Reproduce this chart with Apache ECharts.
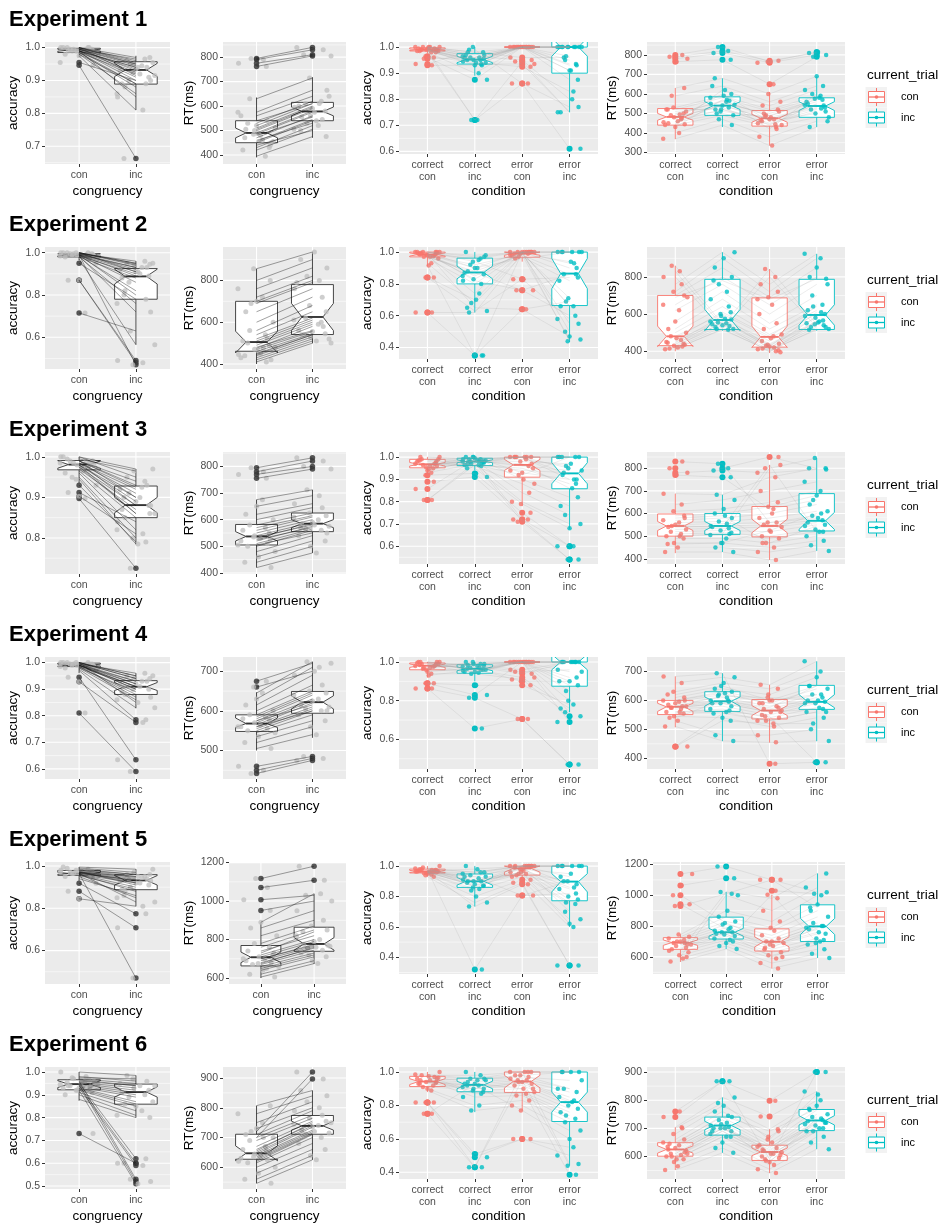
<!DOCTYPE html>
<html>
<head>
<meta charset="utf-8">
<script src="https://cdn.jsdelivr.net/npm/echarts@6/dist/echarts.min.js"></script>
<style>
html, body { margin: 0; padding: 0; background: #ffffff; }
#main { width: 943px; height: 1224px; }
</style>
</head>
<body>
<div id="main"></div>
<script>
// ---------- category labels and titles ----------
const CONGRUENCY = ['con', 'inc'];
const CONDITIONS = ['correct\ncon', 'correct\ninc', 'error\ncon', 'error\ninc'];
const TITLES = ['Experiment 1', 'Experiment 2', 'Experiment 3', 'Experiment 4', 'Experiment 5', 'Experiment 6'];
const LEGEND_TITLE = 'current_trial';
const LEGEND_LABELS = ['con', 'inc'];

// Box statistics per group: [lower whisker, Q1, median, Q3, upper whisker, notch low, notch high]
// Participant values are listed in the same participant order within each experiment.

// ---------- Experiment 1 ----------
const e1AccCon = [1.0,0.99,0.995,0.985,1.0,0.99,0.98,0.995,0.99,1.0,0.985,0.99,0.995,0.98,1.0,0.99,0.985,0.99,0.975,0.995,0.955,0.946,0.99,1.0];
const e1AccInc = [0.96,0.94,0.93,0.92,0.95,0.91,0.89,0.965,0.9,0.955,0.88,0.935,0.945,0.86,0.97,0.925,0.89,0.85,0.81,0.95,0.9,0.663,0.94,0.915];
const e1AccBox = [[0.972,0.985,0.992,0.998,1.0,0.989,0.995],[0.81,0.889,0.932,0.957,0.975,0.912,0.952]];
const e1RtCon = [450,470,490,510,530,540,560,480,500,430,420,395,630,455,505,520,460,575,440,485,762,775,790,795];
const e1RtInc = [540,560,580,600,620,610,640,555,590,520,505,475,715,545,595,610,530,665,500,575,805,810,830,840];
const e1RtBox = [[390,450,490,540,635,470,510],[470,540,578,615,718,560,596]];
const e1Acc4 = [
  [1.0,0.99,0.995,0.985,1.0,0.99,0.98,0.995,0.99,1.0,0.985,0.99,0.995,0.98,1.0,0.99,0.965,0.96,0.935,0.93,0.955,0.99,0.985,1.0],
  [0.97,0.95,0.96,0.94,0.98,0.93,0.9,0.965,0.955,1.0,0.935,0.945,0.96,0.72,0.97,0.95,0.94,0.875,0.99,0.93,0.96,0.72,0.95,0.98],
  [1.0,1.0,1.0,1.0,0.96,1.0,1.0,0.95,1.0,1.0,0.935,1.0,1.0,0.86,1.0,1.0,0.925,1.0,0.86,1.0,1.0,0.945,1.0,1.0],
  [1.0,1.0,0.91,1.0,0.96,0.93,1.0,0.8,1.0,0.875,0.75,1.0,0.95,0.61,1.0,0.91,0.83,1.0,0.77,1.0,0.935,0.75,1.0,0.965]];
const e1Acc4Box = [[0.975,0.985,0.99,0.997,1.0,0.987,0.993],[0.89,0.935,0.952,0.975,1.0,0.94,0.965],[1,1,1,1,1,1,1],[0.75,0.9,1.0,1.0,1.0,0.965,1.035]];
const e1Rt4 = [
  [440,460,480,500,520,470,490,510,450,430,400,370,630,530,475,455,495,590,445,520,765,780,790,800],
  [490,520,540,560,580,600,510,530,550,570,470,440,680,590,545,500,565,640,620,520,775,810,820,840],
  [430,450,470,490,510,460,480,440,500,420,380,335,600,520,465,445,485,560,540,470,650,760,770,765],
  [480,520,540,560,580,500,530,550,570,600,460,430,690,590,545,510,575,640,620,525,790,800,810,815]];
const e1Rt4Box = [[368,440,482,525,630,465,500],[430,490,540,585,680,520,560],[335,435,475,515,610,455,495],[430,480,538,580,690,515,560]];
const e1Lim = [[0.646,1.017],[363,862],[0.59,1.0195],[292,866]];
const e1Breaks = [[0.7,0.8,0.9,1.0],[400,500,600,700,800],[0.6,0.7,0.8,0.9,1.0],[300,400,500,600,700,800]];

// ---------- Experiment 2 ----------
const e2AccCon = [1.0,0.99,0.995,0.985,1.0,0.99,0.98,0.995,0.99,1.0,0.985,0.99,0.995,0.98,1.0,0.99,0.95,0.87,0.87,0.715,0.985,0.99,1.0,0.97];
const e2AccInc = [0.95,0.93,0.92,0.9,0.94,0.89,0.88,0.96,0.86,0.95,0.82,0.91,0.93,0.76,0.945,0.47,0.78,0.49,0.48,0.63,0.72,0.8,0.91,0.565];
const e2AccBox = [[0.965,0.98,0.99,0.995,1.0,0.985,0.995],[0.565,0.78,0.888,0.925,0.96,0.852,0.922]];
const e2RtCon = [420,440,460,480,500,520,430,450,470,490,510,540,560,600,650,700,720,760,800,856,410,445,475,690];
const e2RtInc = [510,530,545,560,600,620,520,540,555,590,610,650,680,720,760,800,820,860,900,936,500,540,580,790];
const e2RtBox = [[400,461,505,700,856,453,557],[499,541,625,780,936,560,690]];
const e2Acc4 = [
  [1.0,0.99,0.98,1.0,0.97,0.985,1.0,0.99,0.975,1.0,0.96,0.995,0.98,0.93,1.0,0.99,0.84,0.84,0.62,0.62,0.97,1.0,0.985,0.915],
  [1.0,0.96,0.92,0.98,0.88,0.9,0.95,0.85,0.86,0.94,0.8,0.82,0.74,0.68,0.97,0.65,0.7,0.63,0.62,0.35,0.87,0.9,0.83,0.35],
  [1.0,1.0,0.99,1.0,0.98,1.0,0.97,1.0,0.99,0.83,1.0,0.76,1.0,0.98,1.0,0.64,1.0,0.83,0.99,1.0,0.76,0.96,1.0,0.64],
  [1.0,1.0,0.94,1.0,0.86,0.9,0.82,1.0,0.71,0.84,0.66,0.6,0.5,0.45,1.0,0.47,0.66,0.58,0.55,0.44,0.86,1.0,0.93,0.69]];
const e2Acc4Box = [[0.91,0.97,0.985,1.0,1.0,0.975,0.995],[0.62,0.8,0.872,0.962,1.0,0.832,0.912],[0.94,0.968,0.99,1.0,1.0,0.98,1.0],[0.435,0.664,0.865,1.0,1.0,0.77,0.96]];
const e2Rt4 = [
  [410,420,430,440,450,460,480,500,520,560,620,650,700,720,760,800,830,860,435,445,470,690,415,425],
  [520,530,540,550,560,570,600,640,680,720,760,800,850,900,933,520,535,545,575,590,610,780,515,555],
  [400,410,420,430,440,455,470,490,520,550,600,650,690,720,760,800,842,395,415,425,480,680,405,435],
  [520,530,540,550,560,580,600,620,650,700,760,800,850,900,924,530,545,565,590,610,640,790,515,555]];
const e2Rt4Box = [[400,430,480,700,860,425,535],[510,517,568,787,933,510,625],[390,422,477,687,842,420,535],[510,517,595,787,924,540,650]];
const e2Lim = [[0.45,1.027],[376,960],[0.328,1.032],[358,961]];
const e2Breaks = [[0.6,0.8,1.0],[400,600,800],[0.4,0.6,0.8,1.0],[400,600,800]];

// ---------- Experiment 3 ----------
const e3AccCon = [1.0,0.99,0.985,0.98,0.995,0.975,0.97,0.99,0.985,1.0,0.965,0.98,0.99,0.96,0.975,0.95,0.93,0.912,0.903,0.897,0.985,0.99,0.945,0.98];
const e3AccInc = [0.95,0.93,0.92,0.9,0.965,0.88,0.87,0.94,0.91,0.97,0.85,0.89,0.925,0.82,0.86,0.8,0.79,0.84,0.81,0.725,0.88,0.9,0.785,0.86];
const e3AccBox = [[0.935,0.968,0.981,0.991,1.0,0.972,0.99],[0.784,0.85,0.881,0.928,0.97,0.862,0.9]];
const e3RtCon = [420,440,460,480,500,510,520,530,540,550,560,570,580,600,620,650,675,505,525,535,755,770,780,795];
const e3RtInc = [475,500,520,540,560,565,575,585,590,600,610,615,625,645,660,690,712,550,570,580,790,800,820,832];
const e3RtBox = [[420,505,537,582,675,520,555],[475,555,585,625,712,570,600]];
const e3Acc4 = [
  [1.0,0.99,0.97,0.98,0.96,0.955,0.975,0.985,0.95,0.965,0.99,1.0,0.94,0.93,0.97,0.98,0.919,0.889,0.857,0.807,0.807,0.96,0.985,0.945],
  [1.0,0.99,0.98,0.985,0.97,0.995,0.965,0.98,0.975,1.0,0.96,0.99,0.985,0.97,0.98,0.95,0.927,0.911,0.99,0.975,0.965,0.985,1.0,0.98],
  [1.0,1.0,0.98,0.96,0.94,1.0,0.92,0.97,1.0,0.9,0.88,1.0,0.84,0.8,1.0,0.79,0.75,0.72,0.72,0.71,0.95,1.0,0.93,0.99],
  [1.0,1.0,0.97,0.94,0.93,0.9,1.0,0.86,0.95,0.82,0.78,1.0,0.74,0.7,0.92,0.68,0.6,0.6,0.54,0.54,0.88,1.0,0.9,0.96]];
const e3Acc4Box = [[0.925,0.952,0.968,0.99,1.0,0.96,0.976],[0.94,0.962,0.98,0.995,1.0,0.975,0.988],[0.78,0.91,0.965,1.0,1.0,0.94,0.99],[0.675,0.858,0.927,1.0,1.0,0.88,0.975]];
const e3Rt4 = [
  [430,450,470,490,500,510,520,530,540,550,560,570,590,610,640,688,500,545,580,465,770,780,800,830],
  [430,450,470,490,505,515,525,535,545,555,565,580,600,620,660,683,510,540,590,470,760,790,800,820],
  [395,430,450,470,490,500,520,540,550,560,580,600,630,650,700,760,800,815,470,525,620,780,850,560],
  [435,460,480,500,520,530,550,560,570,590,610,640,680,700,740,800,845,520,545,600,660,795,800,580]];
const e3Rt4Box = [[425,500,545,598,688,525,565],[430,508,545,600,683,525,565],[395,497,545,631,815,515,575],[435,523,568,688,845,530,605]];
const e3Lim = [[0.711,1.012],[396,854],[0.52,1.023],[377,872]];
const e3Breaks = [[0.8,0.9,1.0],[400,500,600,700,800],[0.6,0.7,0.8,0.9,1.0],[400,500,600,700,800]];

// ---------- Experiment 4 ----------
const e4AccCon = [1.0,0.99,0.995,0.985,1.0,0.99,0.98,0.995,0.99,1.0,0.985,0.99,0.995,0.98,1.0,0.99,0.97,0.945,0.928,0.81,0.985,0.99,1.0,0.975];
const e4AccInc = [0.95,0.93,0.92,0.91,0.94,0.9,0.89,0.96,0.91,0.95,0.88,0.92,0.93,0.86,0.94,0.9,0.785,0.634,0.775,0.59,0.87,0.91,0.85,0.83];
const e4AccBox = [[0.96,0.985,0.99,0.998,1.0,0.987,0.994],[0.828,0.88,0.909,0.932,0.96,0.895,0.925]];
const e4RtCon = [505,520,535,545,550,555,560,565,570,575,580,585,590,600,615,630,645,560,575,660,675,460,450,442];
const e4RtInc = [540,560,575,590,600,605,610,620,625,630,640,645,650,665,690,710,724,600,615,700,720,485,480,475];
const e4RtBox = [[500,548,568,590,647,558,582],[532,594,622,649,724,605,638]];
const e4Acc4 = [
  [1.0,0.99,0.98,0.995,0.97,0.96,0.985,1.0,0.975,0.965,0.99,1.0,0.95,0.94,0.98,0.99,0.89,0.89,0.863,0.863,0.97,1.0,0.985,0.93],
  [1.0,0.99,0.97,0.96,0.985,0.95,0.945,0.975,0.98,1.0,0.96,0.955,0.97,0.94,0.99,0.965,0.88,0.83,0.815,0.656,0.95,0.98,0.99,0.96],
  [1.0,1.0,1.0,1.0,0.96,1.0,1.0,0.94,1.0,1.0,0.92,1.0,1.0,0.91,1.0,0.9,0.88,1.0,0.705,0.705,1.0,0.95,1.0,1.0],
  [1.0,1.0,1.0,0.95,1.0,0.92,0.9,1.0,0.8,0.88,0.76,1.0,0.74,0.72,1.0,0.9,0.78,0.69,0.47,0.47,1.0,0.96,1.0,0.85]];
const e4Acc4Box = [[0.92,0.96,0.981,0.995,1.0,0.972,0.99],[0.9,0.942,0.965,0.986,1.0,0.955,0.975],[1,1,1,1,1,1,1],[0.74,0.875,1.0,1.0,1.0,0.96,1.04]];
const e4Rt4 = [
  [510,530,545,555,560,570,575,580,585,590,595,600,610,630,660,683,560,575,600,620,440,441,540,580],
  [460,480,540,560,570,580,590,595,600,610,620,630,640,660,680,694,565,590,625,650,530,555,600,615],
  [455,480,510,530,540,550,560,565,570,580,590,600,620,640,654,381,545,560,590,600,520,530,575,610],
  [460,500,540,560,575,590,595,600,610,620,640,650,680,700,735,386,386,570,590,620,520,560,650,600]];
const e4Rt4Box = [[507,551,578,600,683,562,590],[459,562,597,630,694,580,612],[454,536,565,603,654,548,582],[459,569,595,652,735,575,620]];
const e4Lim = [[0.562,1.021],[428,736],[0.447,1.026],[363,750]];
const e4Breaks = [[0.6,0.7,0.8,0.9,1.0],[500,600,700],[0.6,0.8,1.0],[400,500,600,700]];

// ---------- Experiment 5 ----------
const e5AccCon = [0.98,0.97,0.965,0.96,0.99,0.975,0.955,0.97,0.965,0.995,0.96,0.97,0.975,0.95,0.985,0.965,0.919,0.881,0.845,0.96,0.97,0.94,0.98,0.965];
const e5AccInc = [0.96,0.94,0.93,0.92,0.97,0.91,0.89,0.95,0.935,0.985,0.88,0.92,0.945,0.85,0.96,0.47,0.774,0.708,0.81,0.9,0.93,0.86,0.95,0.83];
const e5AccBox = [[0.93,0.956,0.965,0.979,0.995,0.96,0.97],[0.809,0.888,0.932,0.959,0.985,0.91,0.955]];
const e5RtCon = [605,620,640,660,670,680,690,700,710,720,740,760,780,820,860,890,650,700,730,675,951,1007,1070,1117];
const e5RtInc = [675,690,710,730,745,755,765,775,790,800,820,850,870,900,950,1038,720,770,840,760,1000,1030,1108,1181];
const e5RtBox = [[600,663,708,769,890,680,735],[673,739,777,864,1038,745,810]];
const e5Acc4 = [
  [1.0,0.98,0.97,0.965,0.96,0.955,0.975,0.97,0.96,0.99,0.965,0.97,0.95,0.945,0.985,0.96,0.94,0.93,0.965,0.975,0.955,0.97,0.98,0.96],
  [1.0,0.96,0.94,0.93,0.9,0.88,0.92,0.95,0.87,0.86,0.9,0.91,0.85,0.84,0.96,0.89,0.8,0.76,0.734,0.32,0.93,0.98,0.9,0.87],
  [1.0,1.0,0.98,1.0,0.96,1.0,0.95,1.0,0.99,0.97,1.0,0.94,1.0,0.93,1.0,0.96,0.91,0.89,0.88,0.806,0.806,1.0,0.98,0.95],
  [1.0,1.0,0.95,1.0,0.9,0.88,0.85,1.0,0.8,0.78,0.93,0.75,0.7,0.65,1.0,0.62,0.6,0.346,0.346,0.9,0.82,1.0,0.86,0.76]];
const e5Acc4Box = [[0.93,0.955,0.965,0.98,1.0,0.958,0.972],[0.734,0.86,0.9,0.948,1.0,0.875,0.925],[0.92,0.941,0.985,1.0,1.0,0.96,1.0],[0.6,0.772,0.898,1.0,1.0,0.83,0.95]];
const e5Rt4 = [
  [570,590,610,630,650,660,670,680,690,700,710,720,730,745,600,640,690,700,942,1000,1064,1138,930,680],
  [651,670,690,710,720,735,745,760,770,790,810,830,860,900,1000,1022,700,750,780,820,1111,1187,1010,760],
  [525,560,590,610,630,650,670,690,700,720,740,770,790,830,900,980,1004,600,660,700,1030,1100,1100,680],
  [593,620,650,680,700,720,750,780,800,820,860,900,940,1000,1050,1142,690,710,790,800,1010,1020,920,760]];
const e5Rt4Box = [[567,649,693,725,745,675,710],[651,716,760,858,1022,735,785],[525,638,698,782,1004,665,730],[593,700,798,938,1142,745,850]];
const e5Lim = [[0.442,1.019],[569,1203],[0.29,1.027],[489,1216]];
const e5Breaks = [[0.6,0.8,1.0],[600,800,1000,1200],[0.4,0.6,0.8,1.0],[600,800,1000,1200]];

// ---------- Experiment 6 ----------
const e6AccCon = [1.0,0.98,0.97,0.96,0.955,0.95,0.945,0.94,0.935,0.93,0.925,0.92,0.91,0.9,0.88,0.975,0.95,0.94,0.93,0.96,0.945,0.73,0.92,0.965];
const e6AccInc = [0.985,0.96,0.95,0.94,0.93,0.92,0.91,0.9,0.89,0.87,0.86,0.85,0.83,0.81,0.8,0.97,0.62,0.6,0.59,0.53,0.52,0.6,0.51,0.94];
const e6AccBox = [[0.874,0.922,0.947,0.966,1.0,0.932,0.962],[0.8,0.859,0.912,0.947,0.985,0.89,0.935]];
const e6RtCon = [546,560,580,600,615,625,630,640,645,650,660,670,690,700,710,730,750,780,807,635,655,620,700,720];
const e6RtInc = [625,640,660,680,700,712,715,725,735,740,745,755,765,775,790,800,820,840,858,720,750,710,897,920];
const e6RtBox = [[546,627,647,711,807,622,672],[625,711,739,774,858,725,755]];
const e6Acc4 = [
  [1.0,0.98,0.97,0.96,0.95,0.94,0.935,0.93,0.92,0.91,0.965,0.95,0.9,0.89,0.985,0.94,0.817,0.817,0.817,0.75,0.75,0.96,0.93,0.975],
  [1.0,0.98,0.96,0.95,0.94,0.93,0.92,0.91,0.9,0.89,0.87,0.85,0.8,0.77,0.96,0.92,0.51,0.49,0.43,0.43,0.93,0.95,0.9,0.88],
  [1.0,1.0,0.98,0.97,0.96,0.95,0.94,0.93,0.92,0.9,0.88,0.86,0.83,0.8,1.0,0.77,0.6,0.6,1.0,0.95,0.9,0.98,0.94,0.87],
  [1.0,1.0,1.0,0.95,0.9,0.88,0.85,0.82,0.8,0.78,0.76,0.72,0.7,0.65,1.0,0.6,0.55,0.5,0.45,0.44,0.385,0.9,0.83,0.74]];
const e6Acc4Box = [[0.88,0.913,0.943,0.974,1.0,0.925,0.96],[0.76,0.882,0.923,0.963,1.0,0.9,0.945],[0.77,0.878,0.943,1.0,1.0,0.905,0.98],[0.44,0.704,0.82,1.0,1.0,0.76,0.88]];
const e6Rt4 = [
  [552,565,580,590,600,605,610,620,625,630,640,650,660,680,704,740,760,600,615,635,590,610,645,700],
  [613,630,650,670,680,690,700,705,710,720,730,740,760,780,810,867,867,690,700,715,670,700,745,790],
  [541,555,570,585,595,600,610,615,620,630,640,650,670,697,742,798,590,605,625,580,610,635,690,660],
  [626,650,670,690,700,710,720,725,730,740,750,765,780,800,831,900,900,700,715,735,690,720,770,820]];
const e6Rt4Box = [[552,601,625,649,704,612,638],[613,676,710,740,810,695,725],[541,586,616,640,697,603,630],[626,692,728,767,831,712,745]];
const e6Lim = [[0.487,1.022],[527,937],[0.36,1.03],[520,918]];
const e6Breaks = [[0.5,0.6,0.7,0.8,0.9,1.0],[600,700,800,900],[0.4,0.6,0.8,1.0],[600,700,800,900]];

// Horizontal spread of the jittered points (fraction of the maximal jitter width)
const JITTER = [-0.92,0.35,-0.28,0.74,-0.6,0.1,0.95,-0.45,0.55,-0.8,0.2,-0.1,0.65,-0.7,0.45,-0.35,0.85,-0.55,0.0,0.3,-0.95,0.7,-0.15,0.5];

// ---------- drawing ----------
const FONT = '"Liberation Sans", Arial, Helvetica, sans-serif';
const RED = '#F8766D';
const TEAL = '#00BFC4';
const ROW_STEP = 205;
const PANEL_LEFT = [45, 223, 399, 647];
const PANEL_RIGHT = [170, 346, 598, 845];
const NAME_X = [13, 190, 367, 612];

const experiments = [
  [[e1AccCon, e1AccInc], e1AccBox, [e1RtCon, e1RtInc], e1RtBox, e1Acc4, e1Acc4Box, e1Rt4, e1Rt4Box, e1Lim, e1Breaks],
  [[e2AccCon, e2AccInc], e2AccBox, [e2RtCon, e2RtInc], e2RtBox, e2Acc4, e2Acc4Box, e2Rt4, e2Rt4Box, e2Lim, e2Breaks],
  [[e3AccCon, e3AccInc], e3AccBox, [e3RtCon, e3RtInc], e3RtBox, e3Acc4, e3Acc4Box, e3Rt4, e3Rt4Box, e3Lim, e3Breaks],
  [[e4AccCon, e4AccInc], e4AccBox, [e4RtCon, e4RtInc], e4RtBox, e4Acc4, e4Acc4Box, e4Rt4, e4Rt4Box, e4Lim, e4Breaks],
  [[e5AccCon, e5AccInc], e5AccBox, [e5RtCon, e5RtInc], e5RtBox, e5Acc4, e5Acc4Box, e5Rt4, e5Rt4Box, e5Lim, e5Breaks],
  [[e6AccCon, e6AccInc], e6AccBox, [e6RtCon, e6RtInc], e6RtBox, e6Acc4, e6Acc4Box, e6Rt4, e6Rt4Box, e6Lim, e6Breaks]
];

const grids = [], xAxes = [], yAxes = [], series = [], graphics = [];

function minorBreaks(breaks, lim) {
  const step = breaks[1] - breaks[0];
  const out = [];
  for (let i = -1; i < breaks.length; i++) {
    const v = +(breaks[0] + step * (i + 0.5)).toFixed(6);
    if (v > lim[0] && v < lim[1]) out.push(v);
  }
  return out;
}

function addPanel(row, col, groups, boxes, lim, breaks) {
  const gi = grids.length;
  const nCat = groups.length;
  const colored = col >= 2;
  const isAcc = col % 2 === 0;
  const fmt = v => isAcc ? v.toFixed(1) : String(Math.round(v));
  const wide = breaks.some(b => fmt(b).length > 3);
  const left = PANEL_LEFT[col] + (wide ? 6 : 0);
  const top = row * ROW_STEP + 42;
  const height = colored ? 112 : 122;
  const cats = groups.map((g, k) => k + 1);
  const catLabels = colored ? CONDITIONS : CONGRUENCY;
  const groupColor = k => colored ? (k % 2 === 0 ? RED : TEAL) : '#333333';

  grids.push({ left: left, top: top, width: PANEL_RIGHT[col] - left, height: height,
    show: true, backgroundColor: '#EBEBEB', borderWidth: 0, containLabel: false });

  xAxes.push({
    gridIndex: gi, type: 'value', min: 0.4, max: nCat + 0.6,
    axisLine: { show: false },
    axisTick: { show: true, customValues: cats, length: 3, lineStyle: { color: '#333333', width: 1 } },
    axisLabel: { customValues: cats, formatter: v => catLabels[Math.round(v) - 1],
      color: '#4D4D4D', fontSize: 10.5, lineHeight: 12, margin: 5, fontFamily: FONT },
    splitLine: { show: false },
    name: colored ? 'condition' : 'congruency', nameLocation: 'middle', nameGap: colored ? 28 : 20,
    nameTextStyle: { color: '#000000', fontSize: 13.5, fontFamily: FONT }
  });
  yAxes.push({
    gridIndex: gi, type: 'value', min: lim[0], max: lim[1],
    axisLine: { show: false },
    axisTick: { show: true, customValues: breaks, length: 3, lineStyle: { color: '#333333', width: 1 } },
    axisLabel: { customValues: breaks, formatter: fmt, color: '#4D4D4D', fontSize: 10.5, margin: 5, fontFamily: FONT },
    splitLine: { show: false },
    name: isAcc ? 'accuracy' : 'RT(ms)', nameLocation: 'middle', nameGap: left - NAME_X[col] - 7,
    nameTextStyle: { color: '#000000', fontSize: 13.5, fontFamily: FONT }
  });

  // panel grid lines: 0 = major horizontal, 1 = minor horizontal, 2 = vertical at categories
  const gridData = breaks.map(b => [b, 0])
    .concat(minorBreaks(breaks, lim).map(b => [b, 1]))
    .concat(cats.map(c => [c, 2]));
  series.push({
    type: 'custom', xAxisIndex: gi, yAxisIndex: gi, z: 1, silent: true,
    data: gridData, encode: { x: 0, y: 1 },
    renderItem: (params, api) => {
      const cs = params.coordSys;
      const v = api.value(0), kind = api.value(1);
      if (kind === 2) {
        const px = api.coord([v, lim[0]])[0];
        return { type: 'line', shape: { x1: px, y1: cs.y, x2: px, y2: cs.y + cs.height },
          style: { stroke: '#FFFFFF', lineWidth: 1.1 } };
      }
      const py = api.coord([1, v])[1];
      return { type: 'line', shape: { x1: cs.x, y1: py, x2: cs.x + cs.width, y2: py },
        style: { stroke: '#FFFFFF', lineWidth: kind === 0 ? 1.1 : 0.55 } };
    }
  });

  // notched boxes
  series.push({
    type: 'custom', xAxisIndex: gi, yAxisIndex: gi, z: 2, silent: true, clip: true,
    data: boxes.map((b, k) => [k + 1].concat(b)), encode: { x: 0, y: [1, 5] },
    renderItem: (params, api) => {
      const x = api.value(0);
      const lo = api.value(1), q1 = api.value(2), med = api.value(3), q3 = api.value(4),
            hi = api.value(5), nlo = api.value(6), nhi = api.value(7);
      const color = groupColor(params.dataIndex);
      const c = (dx, v) => api.coord([x + dx, v]);
      const hw = 0.375;
      const seg = (a, b) => ({ x1: a[0], y1: a[1], x2: b[0], y2: b[1] });
      const poly = [c(-hw, q1), c(-hw, nlo), c(-hw / 2, med), c(-hw, nhi), c(-hw, q3),
                    c(hw, q3), c(hw, nhi), c(hw / 2, med), c(hw, nlo), c(hw, q1)];
      return { type: 'group', children: [
        { type: 'line', shape: seg(c(0, q3), c(0, hi)), style: { stroke: color, lineWidth: 0.9 } },
        { type: 'line', shape: seg(c(0, q1), c(0, lo)), style: { stroke: color, lineWidth: 0.9 } },
        { type: 'polygon', shape: { points: poly }, style: { fill: '#FFFFFF', stroke: color, lineWidth: 0.9 } },
        { type: 'line', shape: seg(c(-hw / 2, med), c(hw / 2, med)), style: { stroke: color, lineWidth: 1.9 } }
      ] };
    }
  });

  // outliers (values beyond the whiskers), drawn at the category centre
  const outliers = [];
  groups.forEach((vals, k) => {
    const b = boxes[k];
    vals.forEach(v => {
      if (v < b[0] - 1e-9 || v > b[4] + 1e-9) {
        outliers.push({ value: [k + 1, v], itemStyle: { color: colored ? groupColor(k) : '#3A3A3A', opacity: colored ? 1 : 0.85 } });
      }
    });
  });
  series.push({ type: 'scatter', xAxisIndex: gi, yAxisIndex: gi, z: 3, silent: true,
    symbolSize: colored ? 6 : 5.5, data: outliers });

  // jittered participant points
  const amp = colored ? 0.27 : 0.35;
  const pts = [];
  groups.forEach((vals, k) => {
    vals.forEach((v, i) => {
      const j = JITTER[(i + 7 * k + 3 * col) % JITTER.length];
      pts.push({ value: [k + 1 + j * amp, v],
        itemStyle: { color: colored ? groupColor(k) : '#BDBDBD', opacity: colored ? 0.8 : 0.75 } });
    });
  });
  series.push({ type: 'scatter', xAxisIndex: gi, yAxisIndex: gi, z: 4, silent: true,
    symbolSize: colored ? 4.5 : 5, data: pts });

  // participant lines across conditions
  const n = groups[0].length;
  const lineData = [];
  for (let i = 0; i < n; i++) lineData.push(groups.map(g => g[i]));
  series.push({
    type: 'custom', xAxisIndex: gi, yAxisIndex: gi, z: 5, silent: true, clip: true,
    dimensions: ['a', 'b', 'c', 'd'].slice(0, nCat), encode: { x: 0, y: 1 },
    data: lineData,
    renderItem: (params, api) => {
      const points = [];
      for (let k = 0; k < nCat; k++) points.push(api.coord([k + 1, api.value(k)]));
      return { type: 'polyline', shape: { points: points },
        style: colored ? { stroke: 'rgba(160,160,160,0.28)', lineWidth: 0.7, fill: null }
                       : { stroke: 'rgba(20,20,20,0.4)', lineWidth: 1, fill: null } };
    }
  });
}

function addLegend(row) {
  const y0 = row * ROW_STEP;
  graphics.push({ type: 'text', x: 867, y: y0 + 75, silent: true,
    style: { text: LEGEND_TITLE, font: '13.5px ' + FONT, fill: '#000000',
      textAlign: 'left', align: 'left', textVerticalAlign: 'middle', verticalAlign: 'middle' } });
  LEGEND_LABELS.forEach((lab, k) => {
    const color = k === 0 ? RED : TEAL;
    const cy = y0 + 97 + k * 20.5;
    graphics.push({ type: 'rect', silent: true, shape: { x: 865.5, y: cy - 10, width: 21.5, height: 20.5 }, style: { fill: '#F2F2F2' } });
    graphics.push({ type: 'line', silent: true, shape: { x1: 876.5, y1: cy - 9, x2: 876.5, y2: cy + 9 }, style: { stroke: color, lineWidth: 1 } });
    graphics.push({ type: 'rect', silent: true, shape: { x: 868.5, y: cy - 5.5, width: 16, height: 11 }, style: { fill: '#FFFFFF', stroke: color, lineWidth: 1 } });
    graphics.push({ type: 'line', silent: true, shape: { x1: 868.5, y1: cy, x2: 884.5, y2: cy }, style: { stroke: color, lineWidth: 1.3 } });
    graphics.push({ type: 'circle', silent: true, shape: { cx: 876.5, cy: cy, r: 1.8 }, style: { fill: color } });
    graphics.push({ type: 'text', silent: true, x: 901, y: cy,
      style: { text: lab, font: '11px ' + FONT, fill: '#000000',
        textAlign: 'left', align: 'left', textVerticalAlign: 'middle', verticalAlign: 'middle' } });
  });
}

experiments.forEach((e, row) => {
  const [acc, accBox, rt, rtBox, acc4, acc4Box, rt4, rt4Box, lim, breaks] = e;
  graphics.push({ type: 'text', x: 9, y: row * ROW_STEP + 20, silent: true,
    style: { text: TITLES[row], font: 'bold 22px ' + FONT, fill: '#000000',
      textAlign: 'left', align: 'left', textVerticalAlign: 'middle', verticalAlign: 'middle' } });
  addPanel(row, 0, acc, accBox, lim[0], breaks[0]);
  addPanel(row, 1, rt, rtBox, lim[1], breaks[1]);
  addPanel(row, 2, acc4, acc4Box, lim[2], breaks[2]);
  addPanel(row, 3, rt4, rt4Box, lim[3], breaks[3]);
  addLegend(row);
});

const chart = echarts.init(document.getElementById('main'), null, { renderer: 'canvas' });
chart.setOption({
  animation: false,
  backgroundColor: '#FFFFFF',
  textStyle: { fontFamily: FONT },
  grid: grids,
  xAxis: xAxes,
  yAxis: yAxes,
  series: series,
  graphic: { elements: graphics }
});
</script>
</body>
</html>
